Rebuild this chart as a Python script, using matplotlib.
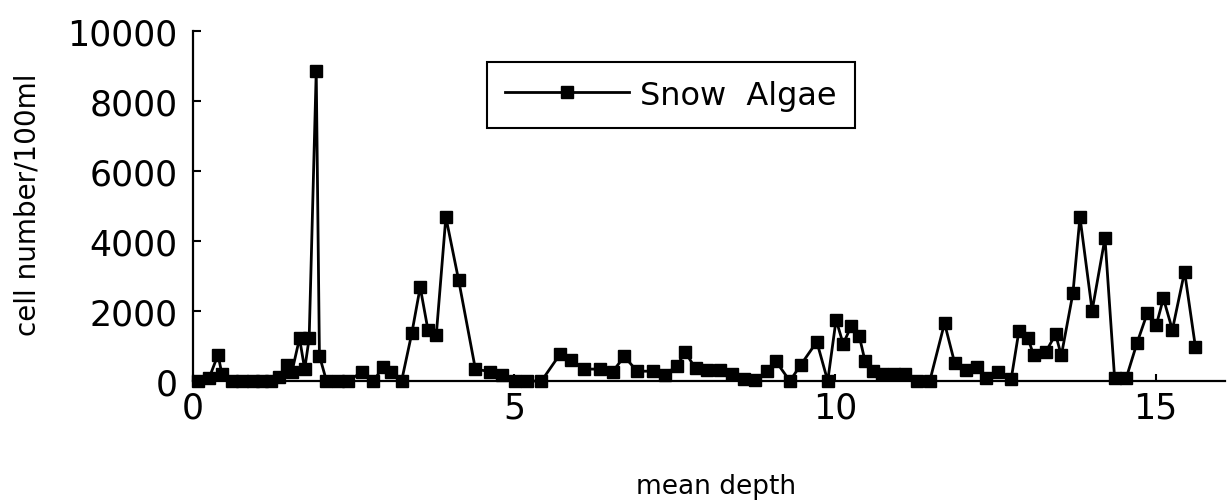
import matplotlib
matplotlib.use("Agg")
import matplotlib.pyplot as plt

# mean depth vs snow algae cell counts
depth = [0.08, 0.25, 0.39, 0.45, 0.60, 0.77, 0.94, 1.08, 1.21, 1.34,
         1.46, 1.54, 1.66, 1.74, 1.81, 1.92, 1.97, 2.08, 2.26, 2.42,
         2.64, 2.81, 2.96, 3.09, 3.25, 3.41, 3.54, 3.66, 3.79, 3.94,
         4.14, 4.40, 4.62, 4.81, 5.02, 5.20, 5.43, 5.72, 5.89, 6.09,
         6.34, 6.54, 6.72, 6.92, 7.16, 7.35, 7.54, 7.67, 7.83, 8.01,
         8.21, 8.40, 8.58, 8.76, 8.94, 9.08, 9.30, 9.47, 9.72, 9.89,
         10.02, 10.13, 10.26, 10.38, 10.47, 10.60, 10.74, 10.92, 11.10, 11.28,
         11.48, 11.71, 11.87, 12.04, 12.21, 12.36, 12.54, 12.75, 12.87, 13.01,
         13.10, 13.29, 13.44, 13.53, 13.71, 13.82, 14.01, 14.21, 14.36, 14.54,
         14.71, 14.87, 15.01, 15.12, 15.26, 15.45, 15.62]
cells = [0, 80, 750, 200, 0, 0, 0, 0, 0, 100,
         450, 250, 1220, 340, 1220, 8840, 720, 0, 0, 0,
         270, 0, 390, 270, 0, 1370, 2680, 1470, 1300, 4680,
         2870, 340, 270, 170, 0, 0, 0, 770, 600, 340,
         340, 270, 700, 280, 280, 160, 440, 820, 360, 300,
         300, 210, 50, 20, 280, 570, 0, 460, 1120, 0,
         1750, 1060, 1580, 1290, 580, 280, 210, 210, 210, 0,
         0, 1650, 500, 300, 400, 80, 250, 70, 1440, 1220,
         730, 840, 1330, 730, 2500, 4680, 2010, 4080, 80, 80,
         1090, 1940, 1600, 2360, 1460, 3120, 960]

fig = plt.figure(figsize=(12.31, 5.02), dpi=100)
ax = fig.add_axes([193/1231, 1-382/502, 1032/1231, 350.3/502])

ax.plot(depth, cells, color="black", lw=2.0, marker="s", markersize=8.5,
        clip_on=False, zorder=3, label="Snow  Algae")

ax.set_xlim(0, 16.08)
ax.set_ylim(0, 10000)
ax.set_xticks([0, 5, 10, 15])
ax.set_yticks(range(0, 10001, 2000))
for s in ["top", "right"]:
    ax.spines[s].set_visible(False)
for s in ["left", "bottom"]:
    ax.spines[s].set_linewidth(1.6)
ax.tick_params(axis="y", direction="in", length=6, width=1.5, labelsize=25, pad=11)
ax.tick_params(axis="x", direction="in", length=5, width=1.5, labelsize=25, pad=7)

fig.text(716/1231, 1-487/502, "mean depth", fontsize=19, ha="center", va="center")
fig.text(28/1231, 1-205/502, "cell number/100ml", fontsize=20, rotation=90,
         ha="center", va="center")

leg = ax.legend(loc="upper left", bbox_to_anchor=(487/1231, 1-63/502),
                bbox_transform=fig.transFigure, borderaxespad=0, fontsize=23,
                fancybox=False, edgecolor="black", framealpha=1,
                handlelength=3.9, handletextpad=0.35, borderpad=0.55)
leg.get_frame().set_linewidth(1.5)

fig.savefig("out.png", dpi=100)
